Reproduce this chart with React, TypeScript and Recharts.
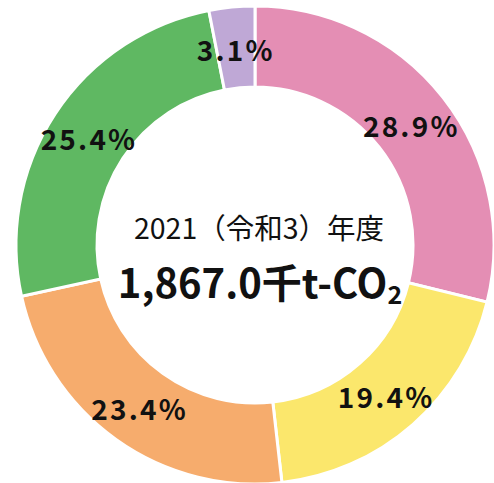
import React from 'react';
import { PieChart, Pie, Cell } from 'recharts';

// Emission shares by sector (%), clockwise from 12 o'clock
const categories = ['A', 'B', 'C', 'D', 'E'];
const shares = [28.9, 19.4, 23.4, 25.4, 3.1];
const colors = ['#E48EB4', '#FBE76C', '#F6AC6D', '#5FB862', '#BFA8D6'];

const yearLabel = '2021（令和3）年度';
const totalLabel = '1,867.0千t-CO';

const data = categories.map((name, i) => ({ name, value: shares[i] }));

const CX = 255;
const CY = 245;
const FONT = "'Noto Sans CJK JP', 'Noto Sans', sans-serif";
const RADIAN = Math.PI / 180;

const renderLabel = (props: any) => {
  const { cx, cy, midAngle, innerRadius, outerRadius, value } = props;
  const r = (innerRadius + outerRadius) / 2;
  const x = cx + r * Math.cos(-midAngle * RADIAN);
  const y = cy + r * Math.sin(-midAngle * RADIAN);
  return (
    <text
      x={x}
      y={y + 2}
      textAnchor="middle"
      dominantBaseline="central"
      fill="#111"
      fontSize={28}
      fontWeight="bold"
      letterSpacing={2.2}
      fontFamily={FONT}
    >
      {value.toFixed(1)}%
    </text>
  );
};

export default function App() {
  return (
    <div style={{ position: 'absolute', left: 0, top: 0, width: 494, height: 483, background: '#fff' }}>
      <PieChart width={494} height={483} margin={{ top: 0, right: 0, bottom: 0, left: 0 }}>
        <Pie
          data={data}
          dataKey="value"
          cx={CX}
          cy={CY}
          innerRadius={158}
          outerRadius={239}
          startAngle={90}
          endAngle={-270}
          stroke="#fff"
          strokeWidth={3}
          label={renderLabel}
          labelLine={false}
          isAnimationActive={false}
        >
          {data.map((d, i) => (
            <Cell key={d.name} fill={colors[i]} />
          ))}
        </Pie>
      </PieChart>
      <svg width={494} height={483} style={{ position: 'absolute', left: 0, top: 0, pointerEvents: 'none' }}>
        <g fontFamily={FONT} fill="#111">
          <text x={CX + 4} y={CY - 6} textAnchor="middle" fontSize={28.5}>
            {yearLabel}
          </text>
          <text x={CX + 5} y={CY + 53} textAnchor="middle" fontSize={40} fontWeight="bold">
            {totalLabel}
            <tspan fontSize={25} dy={6}>2</tspan>
          </text>
        </g>
      </svg>
    </div>
  );
}
